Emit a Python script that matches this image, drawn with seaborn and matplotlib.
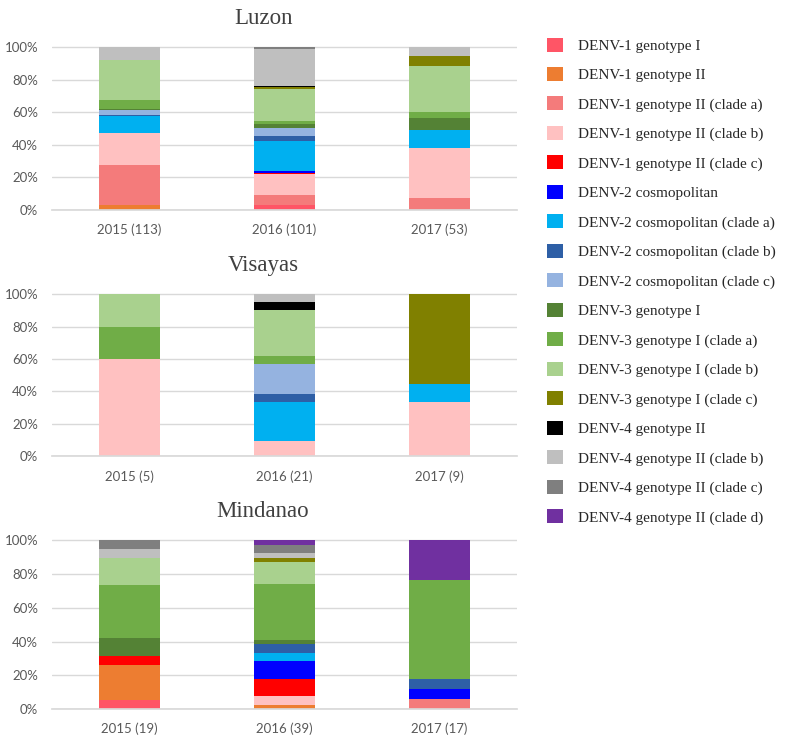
import pandas as pd
import seaborn as sns
import matplotlib.pyplot as plt
from matplotlib.patches import Patch

# --- DATA (sample counts per lineage, same order as `lineages`) ---
lineages = [
    "DENV-1 genotype I", "DENV-1 genotype II",
    "DENV-1 genotype II (clade a)", "DENV-1 genotype II (clade b)", "DENV-1 genotype II (clade c)",
    "DENV-2 cosmopolitan", "DENV-2 cosmopolitan (clade a)",
    "DENV-2 cosmopolitan (clade b)", "DENV-2 cosmopolitan (clade c)",
    "DENV-3 genotype I", "DENV-3 genotype I (clade a)",
    "DENV-3 genotype I (clade b)", "DENV-3 genotype I (clade c)",
    "DENV-4 genotype II", "DENV-4 genotype II (clade b)",
    "DENV-4 genotype II (clade c)", "DENV-4 genotype II (clade d)",
]
colors = [
    "#FF5566", "#ED7D31", "#F47B7B", "#FFC1C1", "#FF0000",
    "#0000FF", "#00B0F0", "#2E5FA6", "#95B3E0",
    "#548235", "#70AD47", "#A9D18E", "#808000",
    "#000000", "#BFBFBF", "#7F7F7F", "#7030A0",
]
years = ["2015", "2016", "2017"]

luzon_2015 = [0, 3, 28, 22, 0, 0, 12, 1, 3, 1, 6, 28, 0, 0, 9, 0, 0]
luzon_2016 = [3, 0, 6, 13, 1, 1, 19, 3, 5, 2, 2, 20, 1, 1, 23, 1, 0]
luzon_2017 = [0, 0, 4, 16, 0, 0, 6, 0, 0, 4, 2, 15, 3, 0, 3, 0, 0]

visayas_2015 = [0, 0, 0, 3, 0, 0, 0, 0, 0, 0, 1, 1, 0, 0, 0, 0, 0]
visayas_2016 = [0, 0, 0, 2, 0, 0, 5, 1, 4, 0, 1, 6, 0, 1, 1, 0, 0]
visayas_2017 = [0, 0, 0, 3, 0, 0, 1, 0, 0, 0, 0, 0, 5, 0, 0, 0, 0]

mindanao_2015 = [1, 4, 0, 0, 1, 0, 0, 0, 0, 2, 6, 3, 0, 0, 1, 1, 0]
mindanao_2016 = [0, 1, 0, 2, 4, 4, 2, 2, 0, 1, 13, 5, 1, 0, 1, 2, 1]
mindanao_2017 = [0, 0, 1, 0, 0, 1, 0, 1, 0, 0, 10, 0, 0, 0, 0, 0, 4]

regions = [
    ("Luzon", [luzon_2015, luzon_2016, luzon_2017]),
    ("Visayas", [visayas_2015, visayas_2016, visayas_2017]),
    ("Mindanao", [mindanao_2015, mindanao_2016, mindanao_2017]),
]

# --- THEME ---
sns.set_theme(style="white")
plt.rcParams["font.family"] = ["Liberation Serif", "DejaVu Serif"]

grey_text = "#595959"
fig = plt.figure(figsize=(7.87, 7.44), dpi=100)

# axes boxes in figure fractions: left, bottom, width, height
boxes = [
    [0.066, 0.718, 0.591, 0.220],
    [0.066, 0.387, 0.591, 0.219],
    [0.066, 0.047, 0.591, 0.228],
]

for (name, counts), box in zip(regions, boxes):
    ax = fig.add_axes(box)
    rows = []
    for year, c in zip(years, counts):
        total = sum(c)
        label = f"{year} ({total})"
        for lin, n in zip(lineages, c):
            rows.append({"year": label, "lineage": lin, "pct": 100 * n / total})
    df = pd.DataFrame(rows)
    df["cum"] = df.groupby("year")["pct"].cumsum()
    order = df["year"].unique().tolist()

    # overlay cumulative bars from the top segment down
    for lin, col in reversed(list(zip(lineages, colors))):
        sub = df[df["lineage"] == lin]
        sns.barplot(data=sub, x="year", y="cum", order=order, color=col,
                    width=0.39, errorbar=None, linewidth=0, saturation=1, ax=ax)

    ax.set_xlim(-0.5, 2.5)
    ax.set_ylim(0, 100.6)
    ax.set_yticks(range(0, 101, 20))
    ax.set_yticklabels([f"{v}%" for v in range(0, 101, 20)])
    ax.yaxis.grid(True, color="#D9D9D9", linewidth=1)
    ax.set_axisbelow(True)
    for s in ax.spines.values():
        s.set_visible(False)
    ax.spines["bottom"].set_visible(True)
    ax.spines["bottom"].set_color("#D9D9D9")
    ax.tick_params(axis="both", length=0, labelsize=9.5, colors=grey_text)
    ax.tick_params(axis="x", pad=10)
    ax.tick_params(axis="y", pad=10)
    for lab in ax.get_xticklabels() + ax.get_yticklabels():
        lab.set_family(["Lato", "DejaVu Sans"])
    ax.set_xlabel("")
    ax.set_ylabel("")
    ax.set_title(name, fontsize=16.5, color="#404040", pad=16, x=0.454)

handles = [Patch(facecolor=c, edgecolor="none") for c in colors]
fig.legend(handles, lineages, loc="upper left", bbox_to_anchor=(0.677, 0.968),
           frameon=False, fontsize=11, handlelength=1.05, handleheight=1.05,
           handletextpad=1.0, labelspacing=0.92, labelcolor="#262626")

plt.savefig("out.png", dpi=100)
